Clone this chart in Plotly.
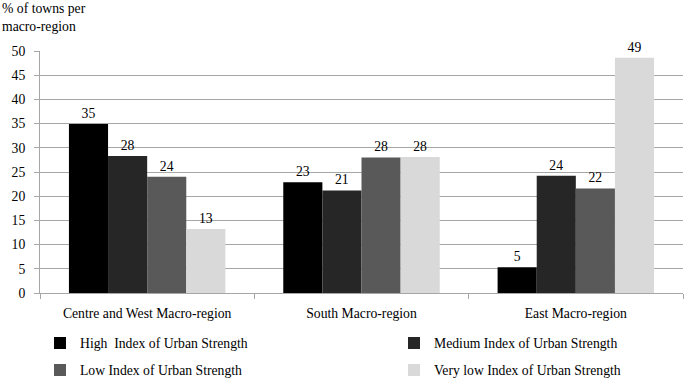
import plotly.graph_objects as go

categories = ["Centre and West Macro-region", "South Macro-region", "East Macro-region"]
series_names = [
    "High  Index of Urban Strength",
    "Medium Index of Urban Strength",
    "Low Index of Urban Strength",
    "Very low Index of Urban Strength",
]
high = [34.9, 22.9, 5.3]
medium = [28.3, 21.2, 24.2]
low = [24.0, 28.0, 21.6]
very_low = [13.2, 28.1, 48.6]
colors = ["#000000", "#262626", "#595959", "#d9d9d9"]
legend_ids = ["legend", "legend2", "legend3", "legend4"]
y_ticks = [0, 5, 10, 15, 20, 25, 30, 35, 40, 45, 50]
title_lines = ["% of towns per", "macro-region"]

FONT = "Liberation Serif"
FS = 13.7
PLOT_H = 379 - 51 - 86
PLOT_W = 685 - 40 - 2

fig = go.Figure()
for name, vals, col, lg in zip(series_names, [high, medium, low, very_low], colors, legend_ids):
    fig.add_trace(go.Bar(
        x=categories, y=vals, name=name, legend=lg,
        marker=dict(color=col, line=dict(width=0)),
        text=[f"{v:.0f}" for v in vals],
        textposition="outside",
        textfont=dict(family=FONT, size=FS, color="#000000"),
        cliponaxis=False,
    ))

for i, line in enumerate(title_lines):
    fig.add_annotation(text=line, xref="paper", yref="paper",
                       x=-40/PLOT_W, y=1 + (51 - 8 - 18 * i)/PLOT_H, xanchor="left", yanchor="middle",
                       align="left", showarrow=False,
                       font=dict(family=FONT, size=FS, color="#000000"))

def leg(col, row):
    return dict(orientation="h", xanchor="left", yanchor="middle",
                x=(0 if col == 0 else 354) / PLOT_W,
                y=-((343 if row == 0 else 370) - 293) / PLOT_H,
                font=dict(family=FONT, size=FS, color="#000000"),
                itemclick=False, bgcolor="rgba(0,0,0,0)")

fig.update_layout(
    width=685, height=379,
    margin=dict(l=40, r=2, t=51, b=86, autoexpand=False),
    paper_bgcolor="white", plot_bgcolor="white",
    barmode="group", bargap=0.27, bargroupgap=0,
    font=dict(family=FONT, size=FS, color="#000000"),
    showlegend=True,
    legend=leg(0, 0), legend2=leg(1, 0), legend3=leg(0, 1), legend4=leg(1, 1),
)
fig.update_yaxes(range=[0, 50], tickvals=y_ticks, showgrid=True, gridcolor="#a6a6a6", gridwidth=1,
                 showline=True, linecolor="#a6a6a6", linewidth=1, ticks="outside", ticklen=5,
                 tickcolor="#a6a6a6", zeroline=False, automargin=False, ticklabelstandoff=6,
                 tickfont=dict(family=FONT, size=FS))
fig.update_xaxes(showline=True, linecolor="#a6a6a6", linewidth=1, ticks="outside",
                 tickson="boundaries", ticklen=5, tickcolor="#a6a6a6", automargin=False,
                 ticklabelstandoff=8, tickfont=dict(family=FONT, size=FS))

fig.write_html("out.html", config={"displayModeBar": False},
               post_script="document.body.style.margin='0';")
